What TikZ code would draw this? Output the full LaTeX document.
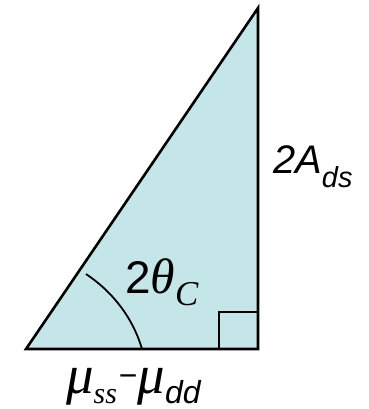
\documentclass[tikz,border=0pt]{standalone}
\usepackage{fontspec}
\setmainfont{Liberation Sans}
\newfontfamily\serifit{Liberation Serif}[ItalicFont=* Italic]
\usepackage{xcolor}
\definecolor{triafill}{RGB}{197,230,232}

\begin{document}
\begin{tikzpicture}[x=1bp,y=-1bp,line join=miter,
  edge/.style={black,line width=2.6bp},
  lbl/.style={anchor=base west,inner sep=0pt,font=\fontsize{40}{40}\selectfont}]
\useasboundingbox (0,0) rectangle (369,409);
\coordinate (B) at (26,349);
\coordinate (R) at (258,349);
\coordinate (T) at (258,8);
\fill[triafill] (B) -- (R) -- (T) -- cycle;
% right angle mark
\draw[edge] (219,349) -- (219,312) -- (258,312);
% angle arc
\coordinate (a1) at (86,274);
\coordinate (a2) at (142,349);
\draw[black,line width=1.8bp] (a1) .. controls (110,290) and (132,315) .. (a2);
\draw[edge] (B) -- (R) -- (T) -- cycle;
\node[lbl] (side) at (273,173) {\textit{2A}\raisebox{-14bp}{\fontsize{29}{29}\selectfont\textit{ds}}};
\node[lbl,font=\fontsize{46}{46}\selectfont] (ang) at (125,293) {2{\serifit\fontsize{50}{50}\selectfont\textit{θ}}\raisebox{-12bp}{\serifit\fontsize{35}{35}\selectfont\textit{C}}};
\node[lbl] (base) at (66,393) {{\serifit\fontsize{55}{55}\selectfont\textit{μ}\raisebox{-10bp}{\fontsize{30}{30}\selectfont\textit{ss}}}\hspace{2bp}\raisebox{7bp}{\fontsize{32}{32}\selectfont −}{\serifit\fontsize{55}{55}\selectfont\textit{μ}}\raisebox{-10bp}{\fontsize{32}{32}\selectfont\textit{dd}}};
\end{tikzpicture}
\end{document}
